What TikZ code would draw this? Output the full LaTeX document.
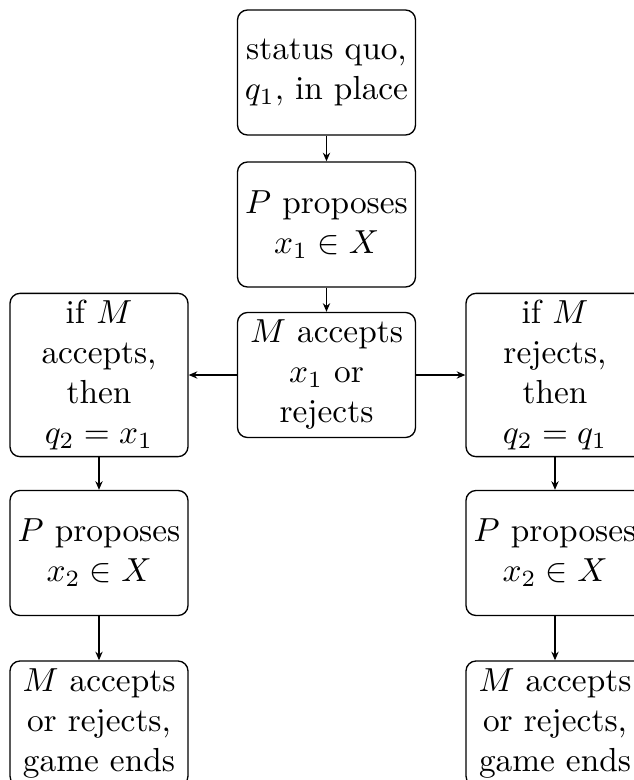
\documentclass[tikz,border=0pt]{standalone}
\usetikzlibrary{arrows.meta}

\begin{document}
\begin{tikzpicture}
  [x=0.3pt,y=-0.3pt,>={Stealth[length=2.6pt,width=2.2pt]},
   box/.style={draw,rounded corners=3pt,align=center,inner sep=2pt,
     minimum width=53.4pt,minimum height=37.5pt}]
  \useasboundingbox (0,0) rectangle (634,780);
  \node[box] (sq) at (326.5,72.5) {status quo,\\ $q_1$, in place};
  \node[box] (pa) at (326.5,224.5) {$P$ proposes\\ $x_1 \in X$};
  \node[box] (ma) at (326.5,375) {$M$ accepts\\ $x_1$ or\\ rejects};
  \node[box] (la) at (99,375) {if $M$\\ accepts,\\ then\\ $q_2 = x_1$};
  \node[box] (ra) at (555,375) {if $M$\\ rejects,\\ then\\ $q_2 = q_1$};
  \node[box] (lp) at (99,553) {$P$ proposes\\ $x_2 \in X$};
  \node[box] (rp) at (555,553) {$P$ proposes\\ $x_2 \in X$};
  \node[box] (le) at (99,723.5) {$M$ accepts\\ or rejects,\\ game ends};
  \node[box] (re) at (555,723.5) {$M$ accepts\\ or rejects,\\ game ends};
  \foreach \from/\to in {sq/pa,pa/ma,ma/la,ma/ra,la/lp,ra/rp,lp/le,rp/re}
    \draw[->] (\from) -- (\to);
\end{tikzpicture}
\end{document}
